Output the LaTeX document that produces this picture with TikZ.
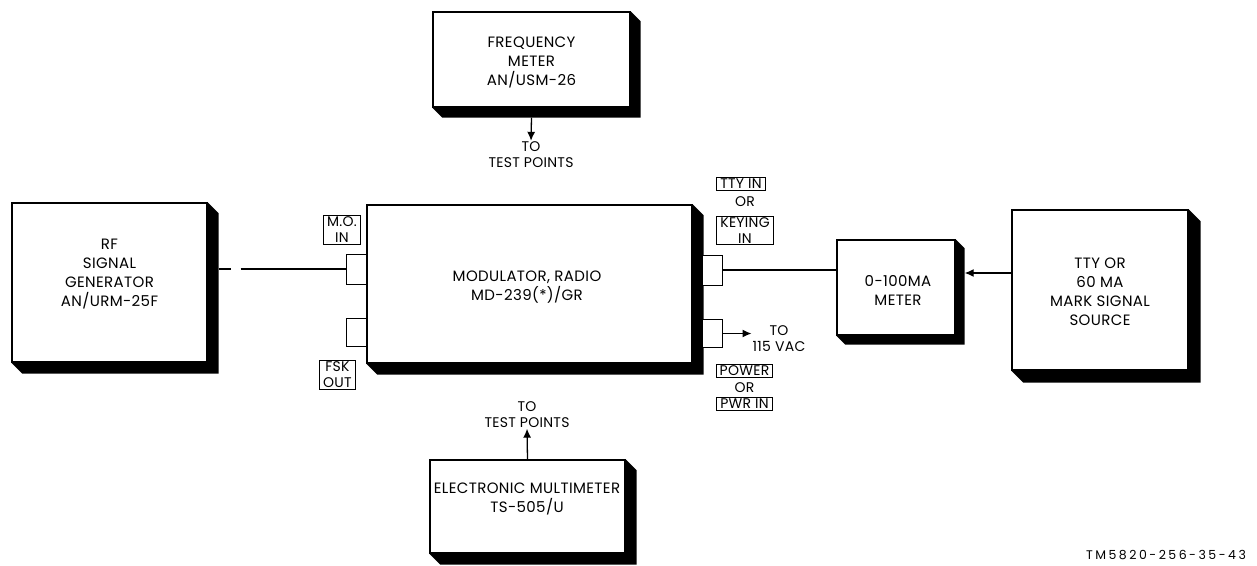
\documentclass[tikz,border=0pt]{standalone}
\usepackage{fontspec}
\setmainfont{Poppins}
\usepackage{tikz}
\usetikzlibrary{positioning,arrows.meta,calc}

% black drop shadow to the lower right of a box
\newcommand{\boxshadow}[2]{%
  \fill (#1.north east) -- ++(#2,#2) -- ([shift={(#2,#2)}]#1.south east)
    -- ([shift={(#2,#2)}]#1.south west) -- (#1.south west) -- (#1.south east) -- cycle;}

\begin{document}
\begin{tikzpicture}[
    x=1pt, y=-1pt,
    unit/.style={draw, line width=1.3pt, fill=white, inner sep=0pt},
    txt/.style={align=center, font=\fontsize{15}{19}\selectfont\addfontfeatures{LetterSpace=2.5}},
    tag/.style={draw, line width=0.9pt, align=center, inner xsep=3.5pt, inner ysep=1.5pt,
      font=\fontsize{14}{16}\selectfont\addfontfeatures{LetterSpace=2}},
    note/.style={align=center, inner sep=1pt,
      font=\fontsize{14}{16}\selectfont\addfontfeatures{LetterSpace=2}},
    port/.style={draw, line width=1pt, fill=white, inner sep=0pt, minimum width=20pt},
    arr/.style={-{Latex[length=9pt,width=8pt]}, line width=1.3pt},
    wire/.style={line width=1.3pt}
]
\useasboundingbox (0,0) rectangle (1257,565);

% units
\node[unit, minimum width=195pt, minimum height=159pt] (rfgen) at (109.5,282.5) {};
\node[txt] (rfgen-t) at (109.5,274.5) {RF\\SIGNAL\\GENERATOR\\AN/URM-25F};
\node[unit, minimum width=197pt, minimum height=95pt] (freq) at (531.5,59.5) {};
\node[txt] (freq-t) at (531.5,62) {FREQUENCY\\METER\\AN/USM-26};
\node[unit, minimum width=325pt, minimum height=158pt] (mod) at (529.5,284) {};
\node[txt] (mod-t) at (527,287) {MODULATOR, RADIO\\MD-239(*)/GR};
\node[unit, minimum width=118pt, minimum height=95pt] (meter) at (896,287.5) {};
\node[txt] (meter-t) at (898,290.5) {0-100MA\\METER};
\node[unit, minimum width=176pt, minimum height=160pt] (tty) at (1100,290) {};
\node[txt] (tty-t) at (1100,291.5) {TTY OR\\60 MA\\MARK SIGNAL\\SOURCE};
\node[unit, minimum width=195pt, minimum height=93pt] (dmm) at (527.5,506.5) {};
\node[txt] (dmm-t) at (527,498.5) {ELECTRONIC MULTIMETER\\TS-505/U};

\boxshadow{rfgen}{11}
\boxshadow{freq}{10}
\boxshadow{mod}{11}
\boxshadow{meter}{9}
\boxshadow{tty}{12}
\boxshadow{dmm}{11}

% connectors on the modulator
\node[port, minimum height=30pt] (moin) at (356.5,269) {};
\node[port, minimum height=28pt] (fsk) at (356.5,332) {};
\node[port, minimum height=30pt] (ttyin) at (712,270) {};
\node[port, minimum height=28pt] (pwr) at (712,333.5) {};

% connector names
\node[tag] (moin-l) at (342,230) {M.O.\\IN};
\node[tag] (fsk-l) at (337.5,374.5) {FSK\\OUT};
\node[tag] (ttyin-l) at (741,184) {TTY IN};
\node[note] (or1) at (745,202) {OR};
\node[tag] (key-l) at (745,230.5) {KEYING\\IN};
\node[tag] (pwr-l) at (744.5,370.5) {POWER};
\node[note] (or2) at (744.5,388) {OR};
\node[tag] (pwrin-l) at (744.5,404) {PWR IN};

% other texts
\node[note] (freq-tp) at (531,155) {TO\\TEST POINTS};
\node[note] (dmm-tp) at (527,414.5) {TO\\TEST POINTS};
\node[note] (ac) at (779,339) {TO\\115 VAC};
\node[note, font=\fontsize{12.5}{14}\selectfont\addfontfeatures{LetterSpace=20}] (fig) at (1166,555) {TM5820-256-35-43};

% wiring
\coordinate (rfout) at ([xshift=11pt]rfgen.east);
\draw[wire, dash pattern=on 12pt off 10pt on 300pt] (rfout |- moin.west) -- (moin.west);
\draw[wire] (ttyin.east) -- (ttyin.east -| meter.west);
\coordinate (ttyout) at (tty.west |- 0,273);
\coordinate (meterin) at ([xshift=9pt]meter.east);
\draw[arr] (ttyout) -- (ttyout -| meterin);
\draw[arr] (pwr.east) -- (pwr.east -| ac.west);
\draw[arr] ([yshift=-10pt]freq.south) -- (freq-tp.north);
\draw[arr] (dmm.north) -- (dmm-tp.south);

\end{tikzpicture}
\end{document}
